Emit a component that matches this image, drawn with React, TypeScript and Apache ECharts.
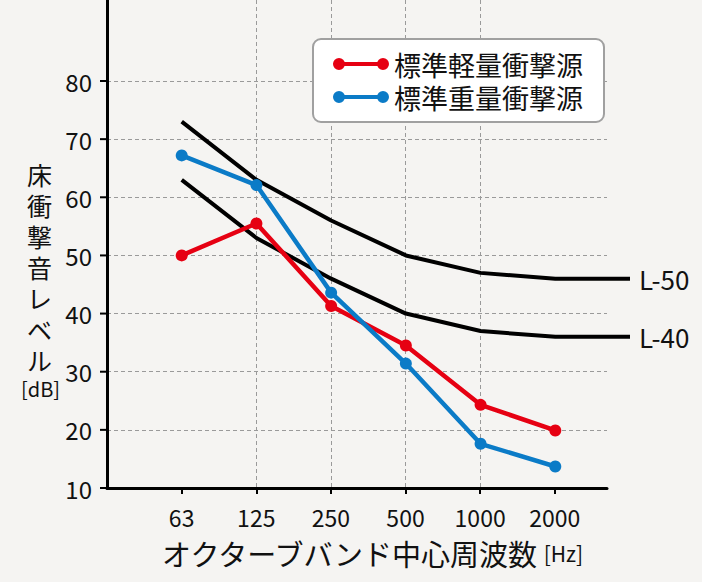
import React, { useEffect, useRef } from "react";
import * as echarts from "echarts";

const FREQS = ["63", "125", "250", "500", "1000", "2000"];
const LIGHT = [50, 55.5, 41.3, 34.5, 24.3, 19.9];
const HEAVY = [67.2, 62.1, 43.6, 31.4, 17.6, 13.7];
const L50 = [73, 63, 56, 50, 47, 46, 46];
const L40 = [63, 53, 46, 40, 37, 36, 36];
const Y_TICKS = [10, 20, 30, 40, 50, 60, 70, 80];
const NAME_LIGHT = "標準軽量衝撃源";
const NAME_HEAVY = "標準重量衝撃源";
const Y_NAME = "床衝撃音レベル";
const Y_UNIT = "[dB]";
const X_NAME = "オクターブバンド中心周波数";
const X_UNIT = "[Hz]";

const FONT = "'Noto Sans CJK JP', 'Noto Sans', sans-serif";
const RED = "#e60012";
const BLUE = "#0b7bc7";
const GRID_LINE = { show: true, lineStyle: { color: "#9a9a9a", width: 1, type: [4, 3] as any } };

const toPairs = (arr: number[]) => arr.map((v, i) => [i, v]);

// layout (pixels)
const G_LEFT = 107;
const G_BOTTOM = 94;
const DATA_TOP = 81;
const H = 582;
const X_MIN = -1;

export default function App() {
  const ref = useRef<HTMLDivElement>(null);
  useEffect(() => {
    if (!ref.current) return;
    const chart = echarts.init(ref.current, undefined, { renderer: "svg" });
    const legendIcon =
      "path://M0,6a6,6 0 1,1 12,0a6,6 0 1,1 -12,0z M6,4h44v4h-44z M44,6a6,6 0 1,1 12,0a6,6 0 1,1 -12,0z";
    const yMin = Y_TICKS[0];
    const yMax = Y_TICKS[Y_TICKS.length - 1];
    const pxPerUnit = (H - G_BOTTOM - DATA_TOP) / (yMax - yMin);
    const frameMax = yMin + (H - G_BOTTOM) / pxPerUnit;
    const option: any = {
      animation: false,
      backgroundColor: "#f5f4f2",
      textStyle: { fontFamily: FONT },
      grid: [
        { left: G_LEFT, right: 72, top: DATA_TOP, bottom: G_BOTTOM },
        { left: G_LEFT, right: 95, top: 0, bottom: G_BOTTOM },
        { left: G_LEFT, right: 95, top: DATA_TOP, bottom: G_BOTTOM },
      ],
      xAxis: [
        {
          gridIndex: 0,
          type: "value",
          min: X_MIN,
          max: 6,
          interval: 1,
          axisLine: { show: false, onZero: false },
          axisTick: { show: false },
          axisLabel: { show: false },
          splitLine: { show: false },
        },
        {
          gridIndex: 1,
          type: "value",
          min: X_MIN,
          max: 5.7,
          interval: 1,
          axisLine: { show: true, onZero: false, lineStyle: { color: "#000", width: 3 } },
          axisTick: {
            show: true,
            length: 6,
            lineStyle: { color: "#000", width: 2 },
            customValues: FREQS.map((_, i) => i),
          },
          axisLabel: {
            show: true,
            margin: 17,
            fontSize: 23,
            color: "#111",
            fontFamily: FONT,
            customValues: FREQS.map((_, i) => i),
            formatter: (v: number) =>
              Number.isInteger(v) && v >= 0 && v < FREQS.length ? FREQS[v] : "",
          },
          splitLine: { ...GRID_LINE, showMinLine: false, showMaxLine: false },
        },
        {
          gridIndex: 2,
          type: "value",
          min: X_MIN,
          max: 5.7,
          interval: 1,
          axisLine: { show: false, onZero: false },
          axisTick: { show: false },
          axisLabel: { show: false },
          splitLine: { show: false },
        },
      ],
      yAxis: [
        {
          gridIndex: 0,
          type: "value",
          min: yMin,
          max: yMax,
          interval: 10,
          axisLine: { show: false, onZero: false },
          axisTick: { show: false },
          axisLabel: { margin: 15, fontSize: 24, color: "#111", fontFamily: FONT },
          splitLine: { show: false },
        },
        {
          gridIndex: 1,
          type: "value",
          min: yMin,
          max: frameMax,
          interval: 10,
          axisLine: { show: true, onZero: false, lineStyle: { color: "#000", width: 3 } },
          axisTick: { show: false },
          axisLabel: { show: false },
          splitLine: { show: false },
        },
        {
          gridIndex: 2,
          type: "value",
          min: yMin,
          max: yMax,
          interval: 10,
          axisLine: { show: false, onZero: false },
          axisTick: { show: false },
          axisLabel: { show: false },
          splitLine: { ...GRID_LINE, showMinLine: false },
        },
      ],
      legend: {
        orient: "vertical",
        left: 313,
        top: 39,
        padding: [10, 21, 10, 20],
        itemGap: 3,
        itemWidth: 56,
        itemHeight: 12,
        selectedMode: false,
        backgroundColor: "#ffffff",
        borderColor: "#a0a0a0",
        borderWidth: 2,
        borderRadius: 8,
        data: [
          { name: NAME_LIGHT, icon: legendIcon, itemStyle: { color: RED } },
          { name: NAME_HEAVY, icon: legendIcon, itemStyle: { color: BLUE } },
        ],
        textStyle: { fontSize: 27, color: "#111", fontFamily: FONT, lineHeight: 30 },
      },
      series: [
        {
          name: "yTicks",
          type: "custom",
          xAxisIndex: 0,
          yAxisIndex: 0,
          silent: true,
          clip: false,
          data: Y_TICKS.map((v) => [X_MIN, v]),
          renderItem: (_params: any, api: any) => {
            const p = api.coord([api.value(0), api.value(1)]);
            return {
              type: "line",
              shape: { x1: p[0] - 7, y1: p[1], x2: p[0], y2: p[1] },
              style: { stroke: "#000", lineWidth: 2 },
            };
          },
          z: 5,
        },
        {
          name: "L-50",
          type: "line",
          xAxisIndex: 0,
          yAxisIndex: 0,
          data: toPairs(L50),
          showSymbol: false,
          symbol: "none",
          lineStyle: { color: "#000", width: 4 },
          endLabel: { show: true, formatter: "L-50", distance: 9, fontSize: 26, color: "#111", fontFamily: FONT },
        },
        {
          name: "L-40",
          type: "line",
          xAxisIndex: 0,
          yAxisIndex: 0,
          data: toPairs(L40),
          showSymbol: false,
          symbol: "none",
          lineStyle: { color: "#000", width: 4 },
          endLabel: { show: true, formatter: "L-40", distance: 9, fontSize: 26, color: "#111", fontFamily: FONT },
        },
        {
          name: NAME_LIGHT,
          type: "line",
          xAxisIndex: 0,
          yAxisIndex: 0,
          data: toPairs(LIGHT),
          symbol: "circle",
          symbolSize: 12,
          itemStyle: { color: RED },
          lineStyle: { color: RED, width: 4.5 },
        },
        {
          name: NAME_HEAVY,
          type: "line",
          xAxisIndex: 0,
          yAxisIndex: 0,
          data: toPairs(HEAVY),
          symbol: "circle",
          symbolSize: 12,
          itemStyle: { color: BLUE },
          lineStyle: { color: BLUE, width: 4.5 },
        },
      ],
      graphic: [
        {
          type: "text",
          left: 27,
          top: 158,
          style: {
            text: Y_NAME.split("").join("\n"),
            fontSize: 25,
            lineHeight: 31,
            fill: "#111",
            fontFamily: FONT,
            align: "center",
          },
        },
        {
          type: "text",
          left: 21,
          top: 378,
          style: { text: Y_UNIT, fontSize: 20, fill: "#111", fontFamily: FONT },
        },
        {
          type: "text",
          left: 162,
          top: 538,
          style: {
            text: `{a|${X_NAME}}{b| ${X_UNIT}}`,
            fill: "#111",
            fontFamily: FONT,
            rich: {
              a: { fontSize: 29, fontFamily: FONT, fill: "#111", lineHeight: 30 },
              b: { fontSize: 21, fontFamily: FONT, fill: "#111", lineHeight: 30 },
            },
          },
        },
      ],
    };
    chart.setOption(option);
    return () => chart.dispose();
  }, []);
  return (
    <div
      ref={ref}
      style={{ position: "absolute", left: 0, top: 0, width: 702, height: H }}
    />
  );
}
